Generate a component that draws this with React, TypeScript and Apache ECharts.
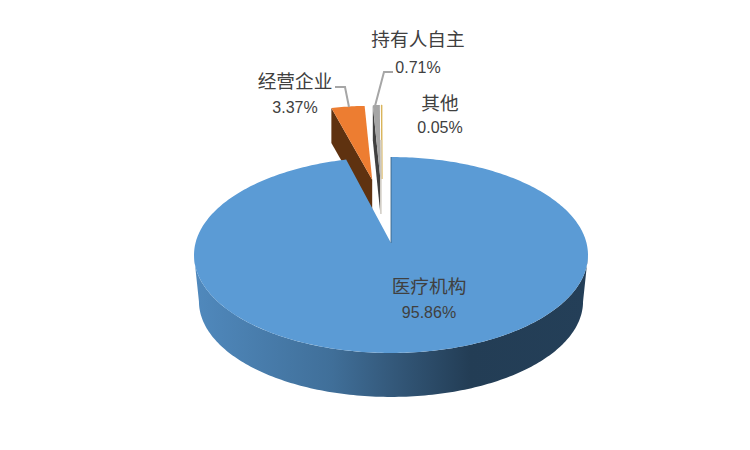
import React, { useEffect, useRef } from "react";
import * as echarts from "echarts";

const sliceNames = ["医疗机构", "经营企业", "持有人自主", "其他"];
const sliceValues = [95.86, 3.37, 0.71, 0.05];
const topColors = ["#5b9bd5", "#ed7d31", "#a5a5a5", "#d9b45a"];
const wallColors = ["#335a7c", "#5f3210", "#404040", "#d4d0c8"];
const labelCenters = [[429, 284.5, 312], [295, 79.5, 107], [418, 37.5, 67], [440, 101.5, 127]];
const leaders = [null, [[335, 87], [345, 87], [349, 107]], [[393, 72], [384, 72], [375, 106]], null];

const CX = 391;
const APEX_Y = 243;
const PERSP = 0.1224;
const RX = 195.5;
const RY = 96.5;
const EXPLODE_X = 382;
const EXPLODE_LIFT = 64;
const EX_SX = 0.91;
const EX_SY = 0.86;
const EX_WALL = 35;
const total = sliceValues.reduce((a, b) => a + b, 0);

function angleRange(i: number): [number, number] {
  let s = 0;
  for (let k = 0; k < i; k++) s += sliceValues[k];
  return [(s / total) * 360, ((s + sliceValues[i]) / total) * 360];
}
const rad = (d: number) => (d * Math.PI) / 180;
function proj(deg: number, ax: number, ay: number, sx: number, sy: number): number[] {
  const u = Math.sin(rad(deg));
  const v = Math.cos(rad(deg));
  const s = 1 / (1 + PERSP * v);
  return [ax + RX * sx * u * s, ay - RY * sy * v * s];
}
function arc(a0: number, a1: number, ax: number, ay: number, sx: number, sy: number): number[][] {
  const n = Math.max(2, Math.ceil(Math.abs(a1 - a0)));
  const pts: number[][] = [];
  for (let i = 0; i <= n; i++) pts.push(proj(a0 + ((a1 - a0) * i) / n, ax, ay, sx, sy));
  return pts;
}
const lower = (p: number[]) => [CX + (p[0] - CX) * 0.975, p[1] * 0.975 + 52.8];

function textEl(text: string, x: number, y: number, size: number, font: string, fill: string) {
  return {
    type: "text",
    z2: 50,
    style: { text, x, y, fill, fontSize: size, fontFamily: font, align: "center", verticalAlign: "middle" },
  };
}

function renderItem(params: any, api: any) {
  const i = params.dataIndex;
  const value = api.value(0);
  const [a0, a1] = angleRange(i);
  const children: any[] = [];
  const z = i === 0 ? 20 : 10 - i;
  if (i === 0) {
    const top = arc(a0, a1, CX, APEX_Y, 1, 1);
    const ext = (Math.acos(-PERSP) * 180) / Math.PI;
    const front = arc(ext, 360 - ext, CX, APEX_Y, 1, 1);
    children.push({
      type: "polygon",
      z2: z,
      shape: { points: front.concat(front.map(lower).reverse()) },
      style: {
        fill: new echarts.graphic.LinearGradient(0, 0, 1, 0, [
          { offset: 0, color: "#5089bd" },
          { offset: 0.35, color: "#406f99" },
          { offset: 0.5, color: "#34597b" },
          { offset: 0.7, color: "#233d55" },
          { offset: 1, color: "#243f58" },
        ]),
      },
    });
    children.push({
      type: "polygon",
      z2: z + 1,
      shape: { points: [[CX, APEX_Y]].concat(top) },
      style: { fill: topColors[0] },
    });
    children.push({
      type: "line",
      z2: z + 2,
      shape: { x1: CX, y1: top[0][1], x2: CX, y2: APEX_Y },
      style: { stroke: wallColors[0], lineWidth: 0.8 },
    });
  } else {
    const mid = (a0 + a1) / 2;
    const ax = EXPLODE_X + EXPLODE_LIFT * Math.sin(rad(mid));
    const ay = APEX_Y - EXPLODE_LIFT * Math.cos(rad(mid));
    const top = arc(a0, a1, ax, ay, EX_SX, EX_SY);
    const outer = top[0];
    if (i === 3) {
      children.push({
        type: "polygon",
        z2: z,
        shape: { points: [[ax, ay]].concat(top) },
        style: { fill: topColors[i], stroke: topColors[i], lineWidth: 1 },
      });
      children.push({
        type: "line",
        z2: z + 1,
        shape: { x1: outer[0] - 0.5, y1: outer[1] + EX_WALL, x2: ax - 1, y2: ay + EX_WALL },
        style: { stroke: wallColors[i], lineWidth: 1.6 },
      });
    } else {
      children.push({
        type: "polygon",
        z2: z,
        shape: { points: [[ax, ay], outer, [outer[0], outer[1] + EX_WALL], [ax, ay + EX_WALL]] },
        style: { fill: wallColors[i] },
      });
      children.push({
        type: "polygon",
        z2: z + 1,
        shape: { points: [[ax, ay]].concat(top) },
        style: { fill: topColors[i] },
      });
    }
  }
  const line = leaders[i];
  if (line) {
    children.push({
      type: "polyline",
      z2: 40,
      shape: { points: line },
      style: { stroke: "#a6a6a6", lineWidth: 2, fill: "none" },
    });
  }
  const [lx, ly0, ly1] = labelCenters[i];
  children.push(textEl(sliceNames[i], lx, ly0, 18.67, '"Noto Sans CJK SC"', "#404040"));
  children.push(textEl(value.toFixed(2) + "%", lx, ly1, 16, '"Liberation Sans"', "#404040"));
  return { type: "group", children };
}

export default function App() {
  const ref = useRef<HTMLDivElement>(null);
  useEffect(() => {
    const chart = echarts.init(ref.current!, undefined, { renderer: "svg" });
    chart.setOption({
      animation: false,
      backgroundColor: "#ffffff",
      series: [
        {
          type: "custom",
          coordinateSystem: "none",
          renderItem,
          data: sliceValues.map((v, i) => ({ name: sliceNames[i], value: [v] })),
          encode: { value: 0 },
        },
      ],
    });
    return () => chart.dispose();
  }, []);
  return <div ref={ref} style={{ position: "absolute", left: 0, top: 0, width: 750, height: 450 }} />;
}
